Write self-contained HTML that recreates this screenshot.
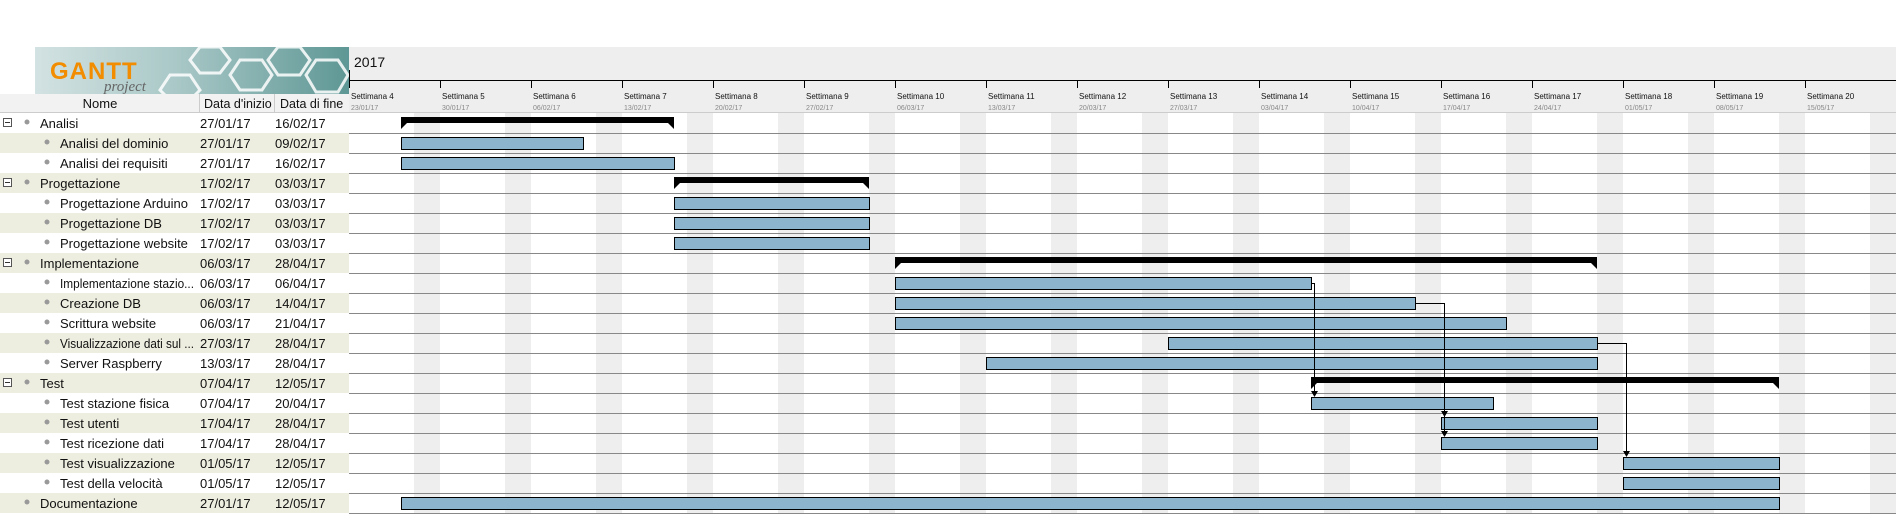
<!DOCTYPE html>
<html><head><meta charset="utf-8"><style>
html,body{margin:0;padding:0;background:#fff;}
svg{display:block;font-family:"Liberation Sans",sans-serif;}
</style></head><body>
<svg width="1896" height="514" viewBox="0 0 1896 514" xmlns="http://www.w3.org/2000/svg">
<defs>
<linearGradient id="lg" x1="0" x2="1" y1="0" y2="0">
<stop offset="0" stop-color="#d3e2e2"/><stop offset="0.45" stop-color="#a9c8c7"/><stop offset="1" stop-color="#5e9795"/>
</linearGradient>
<clipPath id="nc"><rect x="0" y="113" width="197" height="401"/></clipPath>
</defs>
<rect x="0" y="0" width="1896" height="514" fill="#fff"/>
<!-- logo -->
<rect x="35" y="47" width="314" height="47" fill="url(#lg)"/>
<g fill="none" stroke="#fff" stroke-width="3" opacity="0.85">
<polygon points="200,47 220,47 230,60 220,73 200,73 190,60"/>
<polygon points="240,60 262,60 272,75 262,90 240,90 230,75"/>
<polygon points="278,47 300,47 310,60 300,75 278,75 268,60"/>
<polygon points="316,60 338,60 348,75 338,92 316,92 306,75"/>
<polygon points="170,75 190,75 200,90 190,100 170,100 160,90"/>
</g>
<text x="50" y="79" font-size="24" font-weight="bold" fill="#f28c00" letter-spacing="1">GANTT</text>
<text x="104" y="91" font-size="15" font-style="italic" font-family="Liberation Serif,serif" fill="#666">project</text>
<!-- table header -->
<rect x="0" y="94" width="349" height="19" fill="#f2f2f2"/>
<line x1="0" y1="112.5" x2="349" y2="112.5" stroke="#ccc"/>
<line x1="199.5" y1="94" x2="199.5" y2="113" stroke="#ccc"/>
<line x1="274.5" y1="94" x2="274.5" y2="113" stroke="#ccc"/>
<g font-size="13" fill="#111">
<text x="100" y="108" text-anchor="middle">Nome</text>
<text x="204" y="108" font-size="12.5">Data d'inizio</text>
<text x="280" y="108" font-size="12.5">Data di fine</text>
</g>
<!-- table row backgrounds -->
<g fill="#eeeee0">
<rect x="0" y="133" width="349" height="20"/><rect x="0" y="173" width="349" height="20"/>
<rect x="0" y="213" width="349" height="20"/><rect x="0" y="253" width="349" height="20"/>
<rect x="0" y="293" width="349" height="20"/><rect x="0" y="333" width="349" height="20"/>
<rect x="0" y="373" width="349" height="20"/><rect x="0" y="413" width="349" height="20"/>
<rect x="0" y="453" width="349" height="20"/><rect x="0" y="493" width="349" height="20"/>
</g>
<!-- expand boxes -->
<g fill="#fff" stroke="#555">
<rect x="3.5" y="118.5" width="8" height="8"/><rect x="3.5" y="178.5" width="8" height="8"/>
<rect x="3.5" y="258.5" width="8" height="8"/><rect x="3.5" y="378.5" width="8" height="8"/>
</g>
<g stroke="#333"><line x1="5" y1="122.5" x2="10" y2="122.5"/><line x1="5" y1="182.5" x2="10" y2="182.5"/><line x1="5" y1="262.5" x2="10" y2="262.5"/><line x1="5" y1="382.5" x2="10" y2="382.5"/></g>
<!-- bullets -->
<g fill="#999">
<circle cx="27" cy="122" r="2.5"/><circle cx="47" cy="142" r="2.5"/><circle cx="47" cy="162" r="2.5"/>
<circle cx="27" cy="182" r="2.5"/><circle cx="47" cy="202" r="2.5"/><circle cx="47" cy="222" r="2.5"/><circle cx="47" cy="242" r="2.5"/>
<circle cx="27" cy="262" r="2.5"/><circle cx="47" cy="282" r="2.5"/><circle cx="47" cy="302" r="2.5"/><circle cx="47" cy="322" r="2.5"/><circle cx="47" cy="342" r="2.5"/><circle cx="47" cy="362" r="2.5"/>
<circle cx="27" cy="382" r="2.5"/><circle cx="47" cy="402" r="2.5"/><circle cx="47" cy="422" r="2.5"/><circle cx="47" cy="442" r="2.5"/><circle cx="47" cy="462" r="2.5"/><circle cx="47" cy="482" r="2.5"/>
<circle cx="27" cy="502" r="2.5"/>
</g>
<g font-size="13" fill="#111" clip-path="url(#nc)">
<text x="40" y="128">Analisi</text>
<text x="60" y="148">Analisi del dominio</text>
<text x="60" y="168">Analisi dei requisiti</text>
<text x="40" y="188">Progettazione</text>
<text x="60" y="208">Progettazione Arduino</text>
<text x="60" y="228">Progettazione DB</text>
<text x="60" y="248">Progettazione website</text>
<text x="40" y="268">Implementazione</text>
<text x="60" y="288" textLength="134" lengthAdjust="spacingAndGlyphs">Implementazione stazio...</text>
<text x="60" y="308">Creazione DB</text>
<text x="60" y="328">Scrittura website</text>
<text x="60" y="348" textLength="134" lengthAdjust="spacingAndGlyphs">Visualizzazione dati sul ...</text>
<text x="60" y="368">Server Raspberry</text>
<text x="40" y="388">Test</text>
<text x="60" y="408">Test stazione fisica</text>
<text x="60" y="428">Test utenti</text>
<text x="60" y="448">Test ricezione dati</text>
<text x="60" y="468">Test visualizzazione</text>
<text x="60" y="488">Test della velocità</text>
<text x="40" y="508">Documentazione</text>
</g>
<g font-size="13" fill="#111">
<text x="200" y="128">27/01/17</text><text x="275" y="128">16/02/17</text>
<text x="200" y="148">27/01/17</text><text x="275" y="148">09/02/17</text>
<text x="200" y="168">27/01/17</text><text x="275" y="168">16/02/17</text>
<text x="200" y="188">17/02/17</text><text x="275" y="188">03/03/17</text>
<text x="200" y="208">17/02/17</text><text x="275" y="208">03/03/17</text>
<text x="200" y="228">17/02/17</text><text x="275" y="228">03/03/17</text>
<text x="200" y="248">17/02/17</text><text x="275" y="248">03/03/17</text>
<text x="200" y="268">06/03/17</text><text x="275" y="268">28/04/17</text>
<text x="200" y="288">06/03/17</text><text x="275" y="288">06/04/17</text>
<text x="200" y="308">06/03/17</text><text x="275" y="308">14/04/17</text>
<text x="200" y="328">06/03/17</text><text x="275" y="328">21/04/17</text>
<text x="200" y="348">27/03/17</text><text x="275" y="348">28/04/17</text>
<text x="200" y="368">13/03/17</text><text x="275" y="368">28/04/17</text>
<text x="200" y="388">07/04/17</text><text x="275" y="388">12/05/17</text>
<text x="200" y="408">07/04/17</text><text x="275" y="408">20/04/17</text>
<text x="200" y="428">17/04/17</text><text x="275" y="428">28/04/17</text>
<text x="200" y="448">17/04/17</text><text x="275" y="448">28/04/17</text>
<text x="200" y="468">01/05/17</text><text x="275" y="468">12/05/17</text>
<text x="200" y="488">01/05/17</text><text x="275" y="488">12/05/17</text>
<text x="200" y="508">27/01/17</text><text x="275" y="508">12/05/17</text>
</g>
<!-- chart header -->
<rect x="349" y="47" width="1547" height="66" fill="#eee"/>
<text x="354" y="67" font-size="14" fill="#111">2017</text>
<line x1="349" y1="80.5" x2="1896" y2="80.5" stroke="#000"/>
<line x1="349.5" y1="70" x2="349.5" y2="88" stroke="#000"/>
<line x1="349" y1="112.5" x2="1896" y2="112.5" stroke="#ccc"/>
<g stroke="#000">
<line x1="440.5" y1="80" x2="440.5" y2="88"/><line x1="531.5" y1="80" x2="531.5" y2="88"/><line x1="622.5" y1="80" x2="622.5" y2="88"/><line x1="713.5" y1="80" x2="713.5" y2="88"/><line x1="804.5" y1="80" x2="804.5" y2="88"/><line x1="895.5" y1="80" x2="895.5" y2="88"/><line x1="986.5" y1="80" x2="986.5" y2="88"/><line x1="1077.5" y1="80" x2="1077.5" y2="88"/><line x1="1168.5" y1="80" x2="1168.5" y2="88"/><line x1="1259.5" y1="80" x2="1259.5" y2="88"/><line x1="1350.5" y1="80" x2="1350.5" y2="88"/><line x1="1441.5" y1="80" x2="1441.5" y2="88"/><line x1="1532.5" y1="80" x2="1532.5" y2="88"/><line x1="1623.5" y1="80" x2="1623.5" y2="88"/><line x1="1714.5" y1="80" x2="1714.5" y2="88"/><line x1="1805.5" y1="80" x2="1805.5" y2="88"/>
</g>
<g font-size="8" fill="#111">
<text x="351" y="99">Settimana 4</text><text x="442" y="99">Settimana 5</text><text x="533" y="99">Settimana 6</text><text x="624" y="99">Settimana 7</text><text x="715" y="99">Settimana 8</text><text x="806" y="99">Settimana 9</text><text x="897" y="99">Settimana 10</text><text x="988" y="99">Settimana 11</text><text x="1079" y="99">Settimana 12</text><text x="1170" y="99">Settimana 13</text><text x="1261" y="99">Settimana 14</text><text x="1352" y="99">Settimana 15</text><text x="1443" y="99">Settimana 16</text><text x="1534" y="99">Settimana 17</text><text x="1625" y="99">Settimana 18</text><text x="1716" y="99">Settimana 19</text><text x="1807" y="99">Settimana 20</text>
</g>
<g font-size="7" fill="#888">
<text x="351" y="110">23/01/17</text><text x="442" y="110">30/01/17</text><text x="533" y="110">06/02/17</text><text x="624" y="110">13/02/17</text><text x="715" y="110">20/02/17</text><text x="806" y="110">27/02/17</text><text x="897" y="110">06/03/17</text><text x="988" y="110">13/03/17</text><text x="1079" y="110">20/03/17</text><text x="1170" y="110">27/03/17</text><text x="1261" y="110">03/04/17</text><text x="1352" y="110">10/04/17</text><text x="1443" y="110">17/04/17</text><text x="1534" y="110">24/04/17</text><text x="1625" y="110">01/05/17</text><text x="1716" y="110">08/05/17</text><text x="1807" y="110">15/05/17</text>
</g>
<!-- weekends -->
<g fill="#eee">
<rect x="414" y="113" width="26" height="401"/><rect x="505" y="113" width="26" height="401"/><rect x="596" y="113" width="26" height="401"/><rect x="687" y="113" width="26" height="401"/><rect x="778" y="113" width="26" height="401"/><rect x="869" y="113" width="26" height="401"/><rect x="960" y="113" width="26" height="401"/><rect x="1051" y="113" width="26" height="401"/><rect x="1142" y="113" width="26" height="401"/><rect x="1233" y="113" width="26" height="401"/><rect x="1324" y="113" width="26" height="401"/><rect x="1415" y="113" width="26" height="401"/><rect x="1506" y="113" width="26" height="401"/><rect x="1597" y="113" width="26" height="401"/><rect x="1688" y="113" width="26" height="401"/><rect x="1779" y="113" width="26" height="401"/><rect x="1870" y="113" width="26" height="401"/>
</g>
<!-- row lines -->
<g stroke="#888">
<line x1="349" y1="133.5" x2="1896" y2="133.5"/><line x1="349" y1="153.5" x2="1896" y2="153.5"/><line x1="349" y1="173.5" x2="1896" y2="173.5"/><line x1="349" y1="193.5" x2="1896" y2="193.5"/><line x1="349" y1="213.5" x2="1896" y2="213.5"/><line x1="349" y1="233.5" x2="1896" y2="233.5"/><line x1="349" y1="253.5" x2="1896" y2="253.5"/><line x1="349" y1="273.5" x2="1896" y2="273.5"/><line x1="349" y1="293.5" x2="1896" y2="293.5"/><line x1="349" y1="313.5" x2="1896" y2="313.5"/><line x1="349" y1="333.5" x2="1896" y2="333.5"/><line x1="349" y1="353.5" x2="1896" y2="353.5"/><line x1="349" y1="373.5" x2="1896" y2="373.5"/><line x1="349" y1="393.5" x2="1896" y2="393.5"/><line x1="349" y1="413.5" x2="1896" y2="413.5"/><line x1="349" y1="433.5" x2="1896" y2="433.5"/><line x1="349" y1="453.5" x2="1896" y2="453.5"/><line x1="349" y1="473.5" x2="1896" y2="473.5"/><line x1="349" y1="493.5" x2="1896" y2="493.5"/><line x1="349" y1="513.5" x2="1896" y2="513.5"/>
</g>
<!-- summaries -->
<g fill="#000">
<rect x="401" y="117" width="273" height="6"/><polygon points="401,123 407,123 401,129"/><polygon points="668,123 674,123 674,129"/>
<rect x="674" y="177" width="195" height="6"/><polygon points="674,183 680,183 674,189"/><polygon points="863,183 869,183 869,189"/>
<rect x="895" y="257" width="702" height="6"/><polygon points="895,263 901,263 895,269"/><polygon points="1591,263 1597,263 1597,269"/>
<rect x="1311" y="377" width="468" height="6"/><polygon points="1311,383 1317,383 1311,389"/><polygon points="1773,383 1779,383 1779,389"/>
</g>
<!-- bars -->
<g fill="#8cb4cc" stroke="#000" stroke-width="1">
<rect x="401.5" y="137.5" width="182" height="12"/>
<rect x="401.5" y="157.5" width="273" height="12"/>
<rect x="674.5" y="197.5" width="195" height="12"/>
<rect x="674.5" y="217.5" width="195" height="12"/>
<rect x="674.5" y="237.5" width="195" height="12"/>
<rect x="895.5" y="277.5" width="416" height="12"/>
<rect x="895.5" y="297.5" width="520" height="12"/>
<rect x="895.5" y="317.5" width="611" height="12"/>
<rect x="1168.5" y="337.5" width="429" height="12"/>
<rect x="986.5" y="357.5" width="611" height="12"/>
<rect x="1311.5" y="397.5" width="182" height="12"/>
<rect x="1441.5" y="417.5" width="156" height="12"/>
<rect x="1441.5" y="437.5" width="156" height="12"/>
<rect x="1623.5" y="457.5" width="156" height="12"/>
<rect x="1623.5" y="477.5" width="156" height="12"/>
<rect x="401.5" y="497.5" width="1378" height="12"/>
</g>
<!-- dependencies -->
<g fill="none" stroke="#000" stroke-width="1">
<path d="M1312,283.5 H1314.5 V394"/>
<path d="M1416,303.5 H1444.5 V434"/>
<path d="M1598,343.5 H1626.5 V454"/>
</g>
<g fill="#000">
<polygon points="1311,391 1318,391 1314.5,397"/>
<polygon points="1441,411 1448,411 1444.5,417"/>
<polygon points="1441,431 1448,431 1444.5,437"/>
<polygon points="1623,451 1630,451 1626.5,457"/>
</g>
</svg>
</body></html>
